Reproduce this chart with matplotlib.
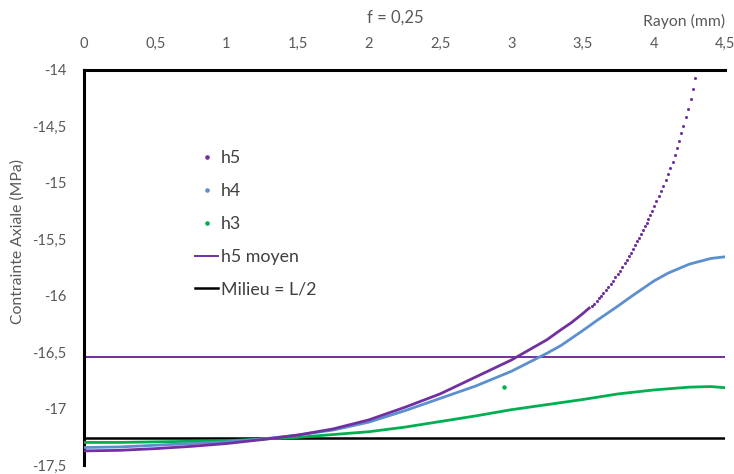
import numpy as np
import matplotlib.pyplot as plt
from matplotlib.lines import Line2D

# rayon (mm) and contrainte axiale (MPa)
# h5: smooth part first, then the separate dots of the steep end
h5_x = [0, 0.25, 0.5, 0.75, 1.0, 1.25, 1.5, 1.75, 2.0, 2.25, 2.5, 2.75, 3.0,
        3.25, 3.35, 3.42, 3.5,
        3.547, 3.563, 3.579, 3.598, 3.615, 3.631, 3.647, 3.664, 3.680, 3.697,
        3.713, 3.730, 3.746, 3.762, 3.779, 3.795, 3.809, 3.826, 3.840, 3.856,
        3.870, 3.884, 3.898, 3.912, 3.926, 3.940, 3.949,
        3.957, 3.971, 3.987, 4.004, 4.018, 4.037, 4.051, 4.065, 4.083, 4.100,
        4.114, 4.133, 4.147, 4.161, 4.180, 4.194, 4.208, 4.226, 4.243, 4.259,
        4.273, 4.290]
h5_y = [-17.375, -17.37, -17.355, -17.335, -17.31, -17.275, -17.235, -17.18,
        -17.10, -16.99, -16.87, -16.72, -16.57, -16.39, -16.30, -16.24, -16.16,
        -16.109, -16.090, -16.070, -16.045, -16.022, -15.999, -15.975, -15.949,
        -15.923, -15.895, -15.868, -15.837, -15.808, -15.778, -15.745, -15.713,
        -15.684, -15.648, -15.618, -15.582, -15.550, -15.518, -15.485, -15.451,
        -15.416, -15.381, -15.358,
        -15.322, -15.287, -15.246, -15.205, -15.163, -15.116, -15.069, -15.025,
        -14.972, -14.921, -14.868, -14.812, -14.756, -14.694, -14.629, -14.561,
        -14.493, -14.419, -14.342, -14.26, -14.165, -14.068]

h4_x = [0, 0.25, 0.5, 0.75, 1.0, 1.25, 1.5, 1.75, 2.0, 2.25, 2.5, 2.75, 3.0,
        3.25, 3.35, 3.5, 3.6, 3.75, 3.85, 4.0, 4.1, 4.25, 4.4, 4.5]
h4_y = [-17.345, -17.34, -17.325, -17.31, -17.295, -17.27, -17.235, -17.19,
        -17.12, -17.02, -16.91, -16.80, -16.67, -16.51, -16.44, -16.31, -16.22,
        -16.09, -16.00, -15.87, -15.80, -15.72, -15.67, -15.655]

h3_x = [0, 0.25, 0.5, 0.75, 1.0, 1.25, 1.5, 1.75, 2.0, 2.25, 2.5, 2.75, 3.0,
        3.25, 3.5, 3.75, 4.0, 4.25, 4.4, 4.5]
h3_y = [-17.30, -17.30, -17.295, -17.29, -17.285, -17.27, -17.255, -17.23,
        -17.205, -17.165, -17.115, -17.065, -17.01, -16.965, -16.92, -16.87,
        -16.835, -16.81, -16.805, -16.815]
h3_outlier_x = [2.95]
h3_outlier_y = [-16.81]

h5_moyen = -16.54
milieu = -17.26

x_ticks = [0, 0.5, 1, 1.5, 2, 2.5, 3, 3.5, 4, 4.5]
y_ticks = [-17.5, -17, -16.5, -16, -15.5, -15, -14.5, -14]

purple = '#7030A0'
blue = '#5B8FD0'
green = '#00B050'
grey = '#595959'

plt.rcParams['font.family'] = ['Lato', 'DejaVu Sans']

fig = plt.figure(figsize=(7.34, 4.74), dpi=100)
ax = fig.add_axes([84 / 734, 9 / 474, 641 / 734, 395 / 474])

h5_x = np.array(h5_x)
h5_y = np.array(h5_y)
smooth = h5_x <= 3.55

ax.axhline(h5_moyen, color=purple, lw=1.4, zorder=2)
ax.axhline(milieu, color='black', lw=1.8, zorder=2)
ax.plot(h3_x, h3_y, color=green, lw=2.0, zorder=3)
ax.plot(h3_outlier_x, h3_outlier_y, 'o', color=green, ms=2.2, zorder=3)
ax.plot(h4_x, h4_y, color=blue, lw=2.0, zorder=4)
ax.plot(h5_x[smooth], h5_y[smooth], color=purple, lw=2.0, zorder=5)
ax.plot(h5_x[~smooth], h5_y[~smooth], 'o', color=purple, ms=2.2, mew=0,
        zorder=5)

ax.set_xlim(0, 4.5)
ax.set_ylim(-17.5, -14)
ax.set_xticks(x_ticks)
ax.set_yticks(y_ticks)
fmt = lambda v: ('%g' % v).replace('.', ',')
ax.set_xticklabels([fmt(v) for v in x_ticks])
ax.set_yticklabels([fmt(v) for v in y_ticks])
ax.xaxis.tick_top()
ax.tick_params(axis='both', length=0, labelsize=10.5, labelcolor=grey)
ax.tick_params(axis='x', pad=14)
ax.tick_params(axis='y', pad=12.5)

for side in ['bottom', 'right']:
    ax.spines[side].set_visible(False)
for side in ['left', 'top']:
    ax.spines[side].set_linewidth(2.2)
    ax.spines[side].set_color('black')

fig.text(367 / 734, 1 - 18 / 474, 'f = 0,25', ha='left', va='center',
         fontsize=12, color=grey)
fig.text(725 / 734, 1 - 21 / 474, 'Rayon (mm)', ha='right', va='center',
         fontsize=11.3, color=grey)
fig.text(18 / 734, 1 - 241 / 474, 'Contrainte Axiale (MPa)', rotation=90,
         ha='center', va='center', fontsize=11.3, color=grey)

handles = [
    Line2D([], [], ls='none', marker='o', ms=2.3, color=purple),
    Line2D([], [], ls='none', marker='o', ms=2.3, color=blue),
    Line2D([], [], ls='none', marker='o', ms=2.3, color=green),
    Line2D([], [], color=purple, lw=1.4),
    Line2D([], [], color='black', lw=1.8),
]
labels = ['h5', 'h4', 'h3', 'h5 moyen', 'Milieu = L/2']
leg = ax.legend(handles, labels, frameon=False, loc='upper left',
                bbox_to_anchor=(188 / 734, 1 - 143 / 474),
                bbox_transform=fig.transFigure, fontsize=12.8,
                handlelength=1.3, handletextpad=0.15, labelspacing=0.95,
                borderaxespad=0)
for t in leg.get_texts():
    t.set_color('#404040')

fig.savefig('out.png', dpi=100)
